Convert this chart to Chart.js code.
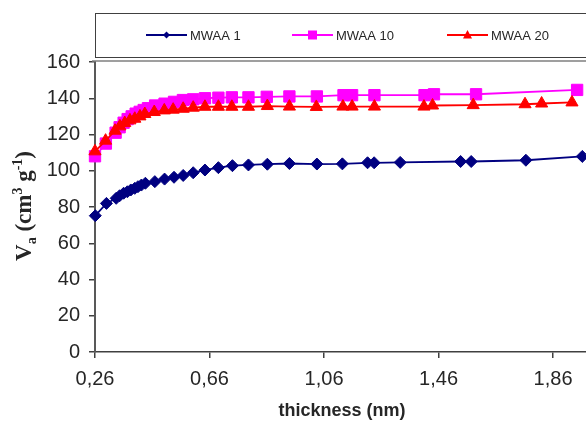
<!DOCTYPE html>
<html>
<head>
<meta charset="utf-8">
<script src="https://cdn.jsdelivr.net/npm/chart.js@4.4.1/dist/chart.umd.min.js"></script>
<style>
  html, body { margin: 0; padding: 0; background: #fff; overflow: hidden; }
  #wrap { width: 586px; height: 423px; position: relative; }
</style>
</head>
<body>
<div id="wrap"><canvas id="tplot" width="586" height="423"></canvas></div>
<script>
// t-plot: adsorbed volume vs. statistical thickness, three samples
const seriesNames = ['MWAA 1', 'MWAA 10', 'MWAA 20'];

const thickness1 = [0.261, 0.300, 0.334, 0.346, 0.360, 0.373, 0.385, 0.399, 0.410, 0.422, 0.436,
  0.469, 0.503, 0.536, 0.568, 0.603, 0.644, 0.691, 0.740, 0.796, 0.862, 0.939,
  1.035, 1.124, 1.212, 1.235, 1.326, 1.537, 1.574, 1.765, 1.962];
const va1 = [75.2, 82.0, 84.8, 86.2, 87.6, 88.4, 89.4, 90.3, 91.2, 92.1, 93.1,
  94.0, 95.4, 96.4, 97.4, 98.9, 100.4, 101.7, 102.8, 103.2, 103.6, 104.0,
  103.7, 103.8, 104.4, 104.4, 104.6, 105.1, 105.1, 105.8, 107.9];

const thickness10 = [0.260, 0.298, 0.332, 0.346, 0.360, 0.374, 0.388, 0.402, 0.416, 0.430, 0.445,
  0.470, 0.503, 0.536, 0.567, 0.603, 0.644, 0.691, 0.738, 0.796, 0.860, 0.939,
  1.035, 1.128, 1.158, 1.236, 1.411, 1.444, 1.591, 1.944];
const va10 = [108.0, 115.0, 121.0, 124.0, 126.5, 128.5, 130.0, 131.5, 132.5, 133.5, 134.5,
  136.0, 137.0, 138.0, 139.0, 139.4, 140.0, 140.3, 140.5, 140.5, 140.8, 141.0,
  141.0, 141.7, 141.7, 141.7, 141.7, 142.2, 142.2, 144.6];

const thickness20 = [0.260, 0.297, 0.330, 0.347, 0.364, 0.382, 0.399, 0.417, 0.434, 0.467,
  0.502, 0.533, 0.568, 0.603, 0.644, 0.691, 0.738, 0.796, 0.862, 0.939,
  1.033, 1.126, 1.158, 1.236, 1.409, 1.439, 1.581, 1.762, 1.820, 1.926];
const va20 = [110.7, 116.6, 122.1, 124.5, 126.3, 127.8, 128.7, 130.0, 131.3, 132.4,
  133.3, 133.7, 134.2, 134.8, 135.3, 135.3, 135.3, 135.3, 135.7, 135.4,
  135.2, 135.4, 135.4, 135.4, 135.4, 136.0, 136.2, 136.7, 137.1, 137.7];

const xTicks = [0.26, 0.66, 1.06, 1.46, 1.86];
const yTicks = [0, 20, 40, 60, 80, 100, 120, 140, 160];

const zip = (xs, ys) => xs.map((x, i) => ({ x, y: ys[i] }));

const datasets = [
  { label: seriesNames[0], data: zip(thickness1, va1), borderColor: '#000080', backgroundColor: '#000080',
    pointStyle: 'rectRot', pointRadius: 6, order: 2 },
  { label: seriesNames[1], data: zip(thickness10, va10), borderColor: '#FF00FF', backgroundColor: '#FF00FF',
    pointStyle: 'rect', pointRadius: 8, order: 1 },
  { label: seriesNames[2], data: zip(thickness20, va20), borderColor: '#FF0000', backgroundColor: '#FF0000',
    pointStyle: 'triangle', pointRadius: 7, order: 0 },
].map(d => Object.assign(d, {
  borderWidth: 1.8, pointBorderWidth: 1, pointBorderColor: d.borderColor,
  tension: 0, fill: false, clip: false, showLine: true,
}));

const AXIS = '#404040';
const TEXT = '#262626';

/* ── extras: frame top, legend box, axis titles ── */
const extras = {
  id: 'extras',
  afterDraw(chart) {
    const { ctx, chartArea: a } = chart;
    ctx.save();

    // plot area top border
    ctx.strokeStyle = '#7f7f7f';
    ctx.lineWidth = 1.5;
    ctx.beginPath();
    ctx.moveTo(a.left - 3, a.top - 1);
    ctx.lineTo(chart.width, a.top - 1);
    ctx.stroke();

    // legend box
    ctx.strokeStyle = '#404040';
    ctx.lineWidth = 1;
    ctx.strokeRect(95.5, 13.5, 600, 44);

    const legendX = [146, 292, 447];
    const ly = 35;
    chart.data.datasets.forEach((ds, i) => {
      const x0 = legendX[i];
      ctx.strokeStyle = ds.borderColor;
      ctx.lineWidth = 2;
      ctx.beginPath();
      ctx.moveTo(x0, ly);
      ctx.lineTo(x0 + 41, ly);
      ctx.stroke();
      ctx.fillStyle = ds.backgroundColor;
      ctx.beginPath();
      if (ds.pointStyle === 'rectRot') {
        ctx.moveTo(x0 + 20.5, ly - 3.5); ctx.lineTo(x0 + 24, ly); ctx.lineTo(x0 + 20.5, ly + 3.5); ctx.lineTo(x0 + 17, ly);
      } else if (ds.pointStyle === 'rect') {
        ctx.rect(x0 + 16, ly - 4.5, 9, 9);
      } else {
        ctx.moveTo(x0 + 20.5, ly - 5); ctx.lineTo(x0 + 25, ly + 3.5); ctx.lineTo(x0 + 16, ly + 3.5);
      }
      ctx.closePath();
      ctx.fill();
      ctx.fillStyle = TEXT;
      ctx.font = '13px "Liberation Sans", Arial, sans-serif';
      ctx.textAlign = 'left';
      ctx.textBaseline = 'middle';
      ctx.fillText(ds.label, x0 + 44, ly + 1);
    });

    // x title
    ctx.fillStyle = TEXT;
    ctx.font = 'bold 18px "Liberation Sans", Arial, sans-serif';
    ctx.textAlign = 'center';
    ctx.textBaseline = 'middle';
    ctx.fillText('thickness (nm)', 342, 411);

    // y title with sub/superscripts, rotated
    const big = 'bold 23px "Liberation Serif", "Times New Roman", serif';
    const small = 'bold 14px "Liberation Serif", "Times New Roman", serif';
    const parts = [
      { t: 'V', f: big, dy: 0 },
      { t: 'a', f: small, dy: 5 },
      { t: ' (cm', f: big, dy: 0 },
      { t: '3', f: small, dy: -9 },
      { t: ' g', f: big, dy: 0 },
      { t: '-1', f: small, dy: -9 },
      { t: ')', f: big, dy: 0 },
    ];
    let total = 0;
    parts.forEach(p => { ctx.font = p.f; p.w = ctx.measureText(p.t).width; total += p.w; });
    ctx.translate(31, 206);
    ctx.rotate(-Math.PI / 2);
    ctx.textAlign = 'left';
    ctx.textBaseline = 'alphabetic';
    let cx = -total / 2;
    parts.forEach(p => {
      ctx.font = p.f;
      ctx.fillText(p.t, cx, p.dy);
      cx += p.w;
    });
    ctx.restore();
  }
};

new Chart(document.getElementById('tplot'), {
  type: 'line',
  data: { datasets },
  options: {
    responsive: false,
    animation: false,
    layout: { autoPadding: false, padding: { top: 62, right: 0, left: 0, bottom: 0 } },
    plugins: { legend: { display: false }, tooltip: { enabled: false } },
    scales: {
      x: {
        type: 'linear',
        min: 0.26,
        max: 1.975,
        afterBuildTicks: s => { s.ticks = xTicks.map(v => ({ value: v })); },
        afterFit: s => { s.height = 71; s.paddingLeft = 0; s.paddingRight = 0; },
        ticks: {
          autoSkip: false, maxRotation: 0, padding: 9, color: TEXT,
          font: { family: '"Liberation Sans", Arial, sans-serif', size: 20 },
          callback: v => v.toFixed(2).replace('.', ','),
        },
        grid: { drawOnChartArea: false, drawTicks: true, tickLength: 6, color: AXIS, lineWidth: 1.5 },
        border: { display: true, color: AXIS, width: 1.5 },
      },
      y: {
        min: 0,
        max: 160,
        afterBuildTicks: s => { s.ticks = yTicks.map(v => ({ value: v })); },
        afterFit: s => { s.width = 95; },
        ticks: {
          padding: 9, color: TEXT,
          font: { family: '"Liberation Sans", Arial, sans-serif', size: 20 },
        },
        grid: { drawOnChartArea: false, drawTicks: true, tickLength: 6, color: AXIS, lineWidth: 1.5 },
        border: { display: true, color: '#595959', width: 2 },
      },
    },
  },
  plugins: [extras],
});
</script>
</body>
</html>
